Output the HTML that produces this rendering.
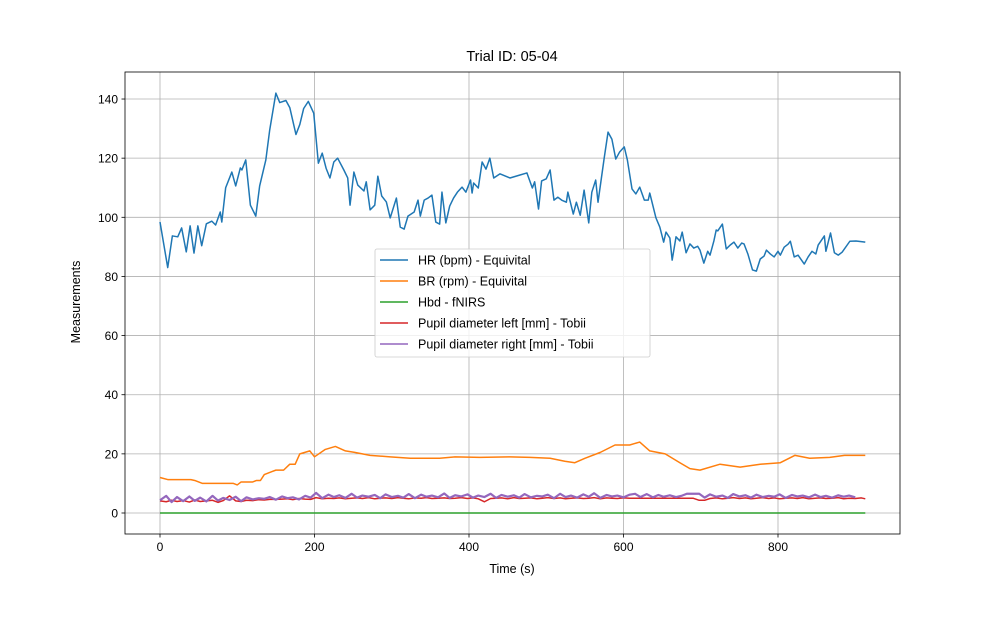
<!DOCTYPE html>
<html><head><meta charset="utf-8"><style>
body{margin:0;background:#fff;}
svg text{font-family:"Liberation Sans","DejaVu Sans",sans-serif;}
</style></head><body>
<svg id="chart" width="1000" height="600" viewBox="0 0 1000 600"></svg>
<script>
const xTicks=[0,200,400,600,800];
const yTicks=[0,20,40,60,80,100,120,140];
const hrT=[0,10,16,23,28,34,39,44,49,54,60,67,72,78,80,85,93,98,104,106,111,117,124,129,137,142,150,155,163,168,176,181,186,192,199,205,210,215,220,225,230,238,243,246,251,256,264,267,272,278,282,287,293,298,306,311,316,321,329,334,337,342,347,352,357,362,365,370,375,380,385,391,396,402,404,406,412,417,422,427,432,440,453,466,475,482,485,490,494,500,505,510,515,520,526,528,535,539,544,549,555,559,564,567,575,580,585,590,595,601,605,611,616,621,627,632,634,642,647,652,655,660,663,668,673,676,681,686,691,696,699,704,709,712,717,720,722,728,733,738,743,748,753,756,761,767,772,777,782,785,790,795,800,803,808,813,816,821,826,834,839,844,849,852,860,862,868,873,878,883,893,901,913];
const hrV=[98.4,83,93.7,93.4,96.4,88.3,97.1,87.9,97.1,90.4,97.8,98.7,97.4,101.8,98.4,110,115.3,110.6,116.7,116,119.4,104.1,100.4,110.6,119.4,129.5,142,138.8,139.5,137.1,128,131.4,136.8,139.2,135.2,118.3,121.7,116.6,113.3,118.7,120,116,113.3,104.1,115.3,110.9,108.9,112,102.5,104.1,113.9,107.2,105.2,99.8,106.5,96.7,96,100.4,101.8,105.8,100.4,105.8,106.5,107.5,98.4,97.7,108.5,98.1,103.8,106.5,108.5,110.2,108.5,112.6,108.2,111.6,109.9,118.7,116.3,120,113.3,114.7,113.3,114.3,115,109.9,112,102.8,112.3,113,116,105.8,106.8,105.8,105.1,108.5,101.1,105.1,100.7,109.2,98.1,108.5,112.6,105.1,120,128.8,126.4,119.7,122.1,123.8,119.4,109.6,107.9,110.2,105.8,105.8,108.2,99.8,96.7,91.6,95,93,85.5,93.4,92,95,88,91,89.6,90.2,88.9,84.5,88.5,87.2,92,95.7,95.4,97.7,89.3,90.6,91.6,89.6,91.3,91,87.6,82.2,81.8,85.9,86.9,88.9,87.6,86.6,88.5,87.2,89.9,90.9,91.9,86.6,87.2,84.2,86.6,88.5,87.6,90.6,93.7,88.5,94.7,88,87.2,88.2,91.9,92,91.6];
const brT=[0,10,40,45,55,95,100,105,120,125,130,135,145,150,160,168,175,181,194,200,214,227,240,252,272,298,324,362,382,414,453,479,505,524,537,550,570,589,608,621,634,654,673,686,699,725,751,777,803,822,841,867,886,913];
const brV=[12,11.3,11.3,11,10,10,9.5,10.5,10.5,11,11,13,14,14.5,14.5,16.5,16.5,20,21,19,21.5,22.5,21,20.5,19.5,19,18.5,18.5,19,18.8,19,18.8,18.5,17.5,17,18.5,20.5,23,23,24,21,20,17,15,14.5,16.5,15.5,16.5,17,19.5,18.5,18.8,19.5,19.5];
const hbdT=[0,913];
const hbdV=[0,0];
const pupT=[0,8,15,22,30,38,45,52,60,68,75,82,90,98,105,112,120,128,135,142,150,158,165,172,180,188,195,202,210,218,225,232,240,248,255,262,270,278,285,292,300,308,315,322,330,338,345,352,360,368,375,382,390,398,405,412,420,428,435,442,450,458,465,472,480,488,495,502,510,518,525,532,540,548,555,562,570,578,585,592,600,608,615,622,630,638,645,652,660,668,675,682,690,698,705,712,720,728,735,742,750,758,765,772,780,788,795,802,810,818,825,832,840,848,855,862,870,878,885,892,900,908,913];
const leftV=[4.1,3.8,4.3,3.9,4.2,3.7,4.4,3.9,4.1,4.3,3.6,4.2,5.8,4.1,3.9,4.3,4.2,4.5,4.4,4.6,4.6,4.7,4.8,4.5,4.9,4.7,4.6,5.2,4.8,5,4.9,5.1,4.8,5,5.1,4.9,5.2,4.8,5,5.1,4.9,5.2,5,4.8,5.1,5,5.2,4.9,5,5.1,4.9,5,5.2,4.9,5.1,4.8,3.8,4.9,5,5.1,4.8,5.2,4.9,5,5.1,4.8,5,5.2,4.9,5.1,4.8,5,5.1,4.9,5,5.2,4.8,5.1,5,4.9,5.1,5,5,5,5,5,5,5,5,5,5,5,5,4.3,4.3,4.9,5.1,4.8,5,5.2,4.9,5.1,4.8,5,5.2,4.9,5.1,4.8,5,5.1,4.9,5.2,4.8,5,5.1,4.9,5,5.2,4.8,5,4.9,5.1,4.8];
const rightV=[4.3,5.8,3.7,5.4,4,5.6,4.1,5.2,3.9,5.8,4.2,5.1,4.4,5.5,4,5.3,4.6,5,4.8,5.4,4.5,5.6,5,5.3,4.6,5.8,5.2,6.8,5,6.2,5.4,6,5.1,6.5,5.2,5.9,5.5,6.1,5,6.3,5.4,5.8,5.2,6.4,5,6.2,5.5,5.9,5.3,6.6,5.1,6,5.6,6.3,5.2,5.9,5.4,6.5,5.1,6.1,5.5,6,5.2,6.4,5.3,5.8,5.6,6.2,5,6.5,5.4,5.9,5.2,6.3,5.5,6.7,5.1,6.1,5.6,5.9,5.3,6.2,6.5,5.4,6.4,5.3,6.1,5.5,6,5.4,5.8,6.5,6.5,6.5,5.2,6.3,5.5,5.9,5.1,6.4,5.6,6,5.2,6.2,5.4,5.8,5.5,6.3,5.1,6.1,5.6,5.9,5.3,6.2,5.4,5.8,5.2,6,5.5,5.9,5.3];
const ns='http://www.w3.org/2000/svg';
const svg=document.getElementById('chart');
const L=125,R=900,T=72,B=534;
const xs=t=>160+t*0.7725;
const ys=v=>513-v*2.957;
function el(tag,attrs,parent){const e=document.createElementNS(ns,tag);for(const k in attrs)e.setAttribute(k,attrs[k]);(parent||svg).appendChild(e);return e;}
// grid + ticks
xTicks.forEach(t=>{const x=xs(t);
 const g=el('line',{x1:x,x2:x,y1:T,y2:B,stroke:'#b0b0b0','stroke-width':0.8});
 
 
 el('line',{x1:x,x2:x,y1:B,y2:B+3.5,stroke:'#000','stroke-width':0.8});
 const tx=el('text',{x:x,y:B+17,'text-anchor':'middle','font-size':12});tx.textContent=t;
 
 
});
yTicks.forEach(v=>{const y=ys(v);
 const g=el('line',{x1:L,x2:R,y1:y,y2:y,stroke:'#b0b0b0','stroke-width':0.8});
 
 
 el('line',{x1:L-3.5,x2:L,y1:y,y2:y,stroke:'#000','stroke-width':0.8});
 const tx=el('text',{x:L-7,y:y+4.5,'text-anchor':'end','font-size':12});tx.textContent=v;
 
 
});
function series(T_,V,color,name,w){
 const p=el('polyline',{points:T_.map((t,i)=>xs(t)+','+ys(V[i])).join(' '),fill:'none',stroke:color,'stroke-width':w||1.5,'stroke-linejoin':'round'});
 
 
}
series(hrT,hrV,'#1f77b4','hr-line');
series(brT,brV,'#ff7f0e','br-line');
series(hbdT,hbdV,'#2ca02c','hbd-line');
series(pupT,leftV,'#d62728','pupil-left-line');
series(pupT,rightV,'#9467bd','pupil-right-line',2.2);
const fr=el('rect',{x:L,y:T,width:R-L,height:B-T,fill:'none',stroke:'#000','stroke-width':0.8});


// legend
const lg=el('g',{});


el('rect',{x:375,y:249,width:275,height:108,rx:2,fill:'#fff','fill-opacity':0.8,stroke:'#ccc','stroke-width':0.8},lg);
const labels=['HR (bpm) - Equivital','BR (rpm) - Equivital','Hbd - fNIRS','Pupil diameter left [mm] - Tobii','Pupil diameter right [mm] - Tobii'];
const colors=['#1f77b4','#ff7f0e','#2ca02c','#d62728','#9467bd'];
labels.forEach((s,i)=>{const y=260+i*21;
 const g=el('g',{},lg);
 
 
 el('line',{x1:380,x2:408,y1:y,y2:y,stroke:colors[i],'stroke-width':1.5},g);
 const t=el('text',{x:418,y:y+4.5,'font-size':12.5},g);t.textContent=s;
});
</script>
<svg width="0" height="0"></svg>
<div style="position:absolute;left:0;top:0;width:1000px;height:600px;pointer-events:none">
<div style="position:absolute;left:0;width:1024px;top:49px;text-align:center;font:14.5px 'Liberation Sans',sans-serif">Trial ID: 05-04</div>
<div style="position:absolute;left:0;width:1024px;top:562px;text-align:center;font:12.5px 'Liberation Sans',sans-serif">Time (s)</div>
<div style="position:absolute;left:26px;top:295px;width:100px;text-align:center;transform:rotate(-90deg);font:12.5px 'Liberation Sans',sans-serif">Measurements</div>
</div>
</body></html>
